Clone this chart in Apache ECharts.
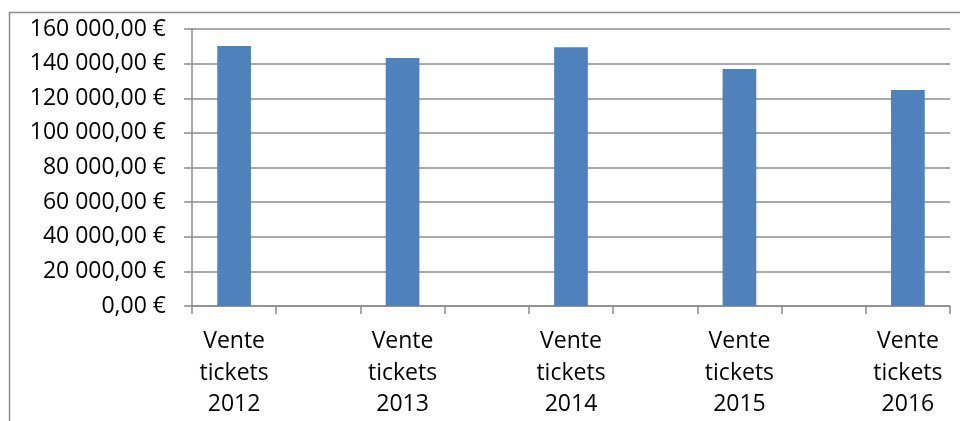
<!DOCTYPE html>
<html>
<head>
<meta charset="utf-8">
<script src="https://cdn.jsdelivr.net/npm/echarts@6/dist/echarts.min.js"></script>
<style>
html,body{margin:0;padding:0;background:#fff;}
#c{width:960px;height:421px;}
</style>
</head>
<body>
<div id="c"></div>
<script>
// Data
var years = ['2012', '2013', '2014', '2015', '2016'];
var labelPrefix = 'Vente\ntickets\n';
var sales = [150200, 143200, 149400, 136900, 124700];
var yTicks = [0, 20000, 40000, 60000, 80000, 100000, 120000, 140000, 160000];

// Source sheet had empty columns between the years: build 9 category slots
var categories = [];
var values = [];
years.forEach(function (y, i) {
  categories.push(labelPrefix + y);
  values.push(sales[i]);
  if (i < years.length - 1) { categories.push(''); values.push(null); }
});

function fmtEuro(v) {
  var s = Math.round(v).toString().replace(/\B(?=(\d{3})+(?!\d))/g, ' ');
  return s + ',00 €';
}

var chart = echarts.init(document.getElementById('c'));
var font = '"Open Sans", "Liberation Sans", sans-serif';
chart.setOption({
  animation: false,
  graphic: [{
    type: 'rect',
    shape: { x: 9.5, y: 12.5, width: 1000, height: 500 },
    style: { fill: 'none', stroke: '#8c8c8c', lineWidth: 1.5 },
    silent: true
  }],
  grid: { left: 192, right: 10, top: 29, bottom: 115, containLabel: false },
  xAxis: {
    type: 'category',
    data: categories,
    boundaryGap: true,
    axisLine: { lineStyle: { color: '#8c8c8c', width: 1.5 } },
    axisTick: { show: true, length: 8, inside: false, alignWithLabel: false, interval: 0, lineStyle: { color: '#8c8c8c', width: 1.5 } },
    axisLabel: { interval: 0, margin: 20, color: '#000', fontSize: 23, lineHeight: 31.5, fontFamily: font, align: 'center' },
    splitLine: { show: false }
  },
  yAxis: {
    type: 'value',
    min: yTicks[0],
    max: yTicks[yTicks.length - 1],
    interval: yTicks[1] - yTicks[0],
    axisLine: { show: true, lineStyle: { color: '#8c8c8c', width: 1.5 } },
    axisTick: { show: true, length: 8, lineStyle: { color: '#8c8c8c', width: 1.5 } },
    axisLabel: { margin: 26, color: '#000', fontSize: 23, fontFamily: font, formatter: fmtEuro },
    splitLine: { show: true, lineStyle: { color: '#8c8c8c', width: 1.5 } }
  },
  series: [{
    type: 'bar',
    data: values,
    barWidth: '40%',
    itemStyle: { color: '#4F81BD' }
  }]
});
</script>
</body>
</html>
